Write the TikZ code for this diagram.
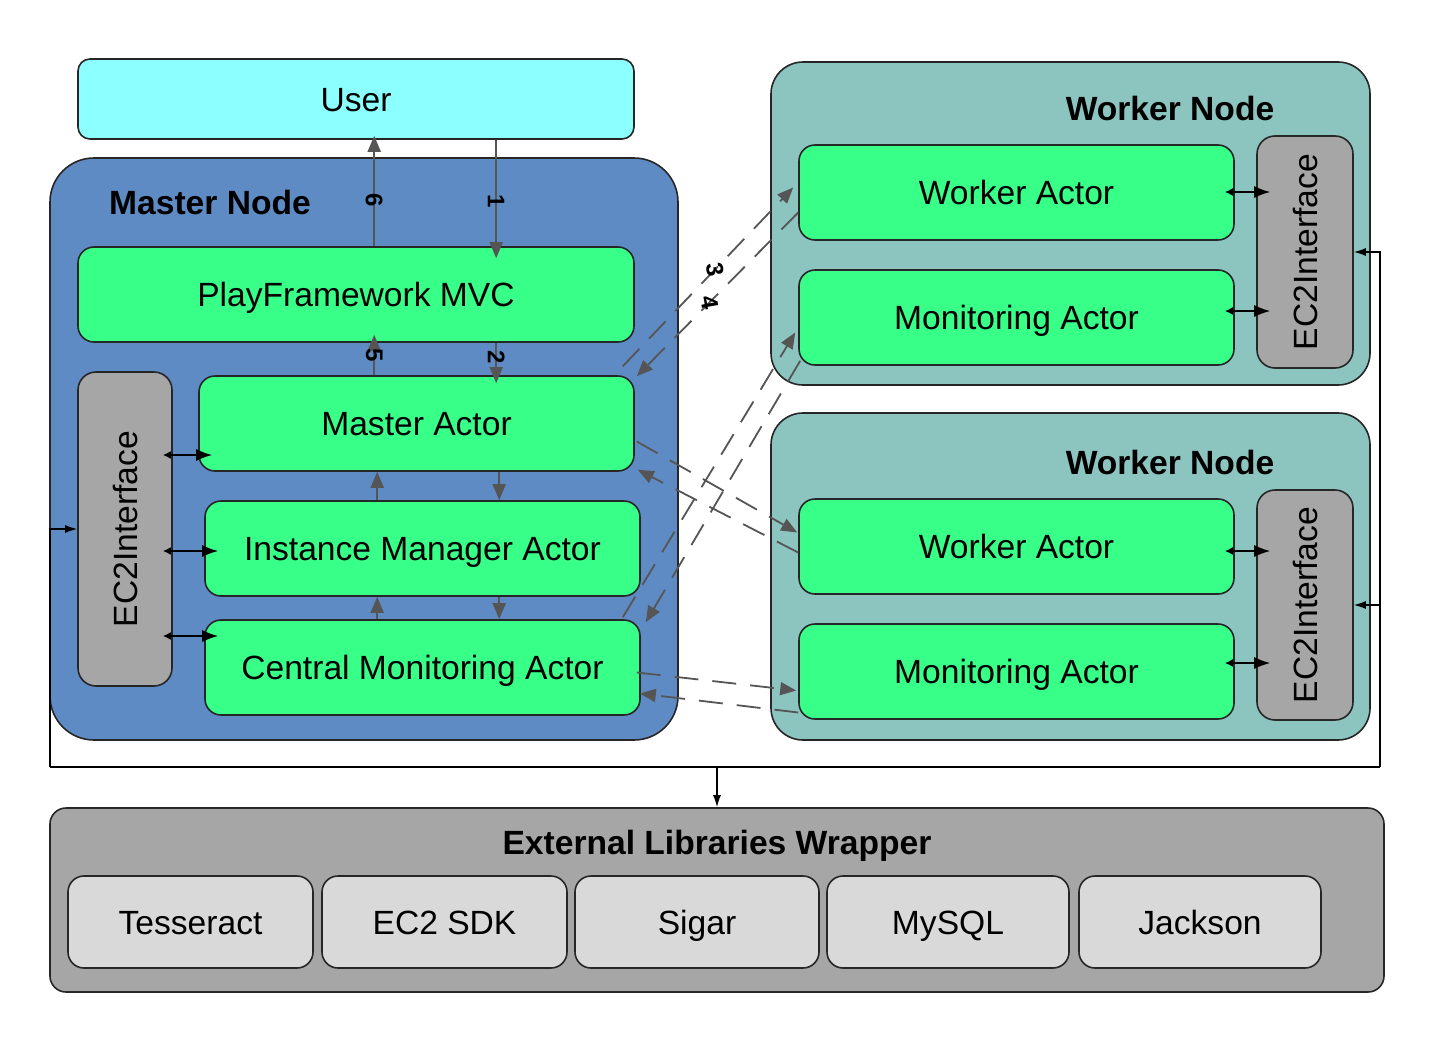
\documentclass[tikz,border=0pt]{standalone}
\usepackage{fontspec}
\setmainfont{Liberation Sans}
\usetikzlibrary{fit,calc,arrows.meta}
\definecolor{usercol}{HTML}{8CFFFF}
\definecolor{mastercol}{HTML}{5F8BC4}
\definecolor{greencol}{HTML}{38FF88}
\definecolor{ec2col}{HTML}{A6A6A6}
\definecolor{workercol}{HTML}{8CC4C0}
\definecolor{libcol}{HTML}{D9D9D9}
\definecolor{arrcol}{HTML}{555555}
\tikzset{
  base/.style={draw=black!85, line width=0.8pt, inner sep=0pt},
  userbox/.style={base, fill=usercol, rounded corners=6pt},
  masterbox/.style={base, fill=mastercol, rounded corners=22pt},
  workerbox/.style={base, fill=workercol, rounded corners=16pt},
  actorbox/.style={base, fill=greencol, rounded corners=8pt},
  ecbox/.style={base, fill=ec2col, rounded corners=9pt},
  wrapbox/.style={base, fill=ec2col, rounded corners=8pt},
  libbox/.style={base, fill=libcol, rounded corners=8pt},
  boxtext/.style={font=\fontsize{16.8}{19}\selectfont, inner sep=0pt, text height=12pt, text depth=0pt},
  title/.style={font=\fontsize{16.8}{19}\selectfont\bfseries, inner sep=0pt, text height=12pt, text depth=0pt},
  rottext/.style={font=\fontsize{16.8}{19}\selectfont, rotate=90, inner sep=0pt, text height=12pt, text depth=0pt},
  garrow/.style={draw=arrcol, line width=0.9pt, -{Triangle[length=8pt,width=6.5pt]}},
  darrow/.style={garrow, dash pattern=on 12pt off 7pt},
  ecarrow/.style={draw=black, line width=0.8pt, {Latex[length=4pt,width=4pt]}-{Latex[length=8pt,width=6pt]}, shorten <=-5pt, shorten >=-7pt},
  busline/.style={draw=black, line width=0.7pt},
  busarrow/.style={busline, -{Latex[length=6pt,width=4pt]}},
  num/.style={font=\fontsize{12}{12}\selectfont\bfseries, rotate=-90, inner sep=0pt},
}
\begin{document}
\begin{tikzpicture}[x=0.5pt, y=-0.5pt]
\useasboundingbox (0,0) rectangle (1451,1044);

% containers
\node[userbox, fit={(78,59) (634,139)}] (user) {};
\node[boxtext] (usert) at (user.center) {User};
\node[masterbox, fit={(50,158) (678,740)}] (master) {};
\node[title] (mastertitle) at (210,202) {Master Node};
\node[workerbox, fit={(771,62) (1370,385)}] (worker1) {};
\node[title] (w1title) at (1170,108) {Worker Node};
\node[workerbox, fit={(771,413) (1370,740)}] (worker2) {};
\node[title] (w2title) at (1170,462) {Worker Node};

% master internals
\node[actorbox, fit={(78,247) (634,342)}] (pf) {};
\node[boxtext] (pft) at (pf.center) {PlayFramework MVC};
\node[ecbox, fit={(78,372) (172,686)}] (mec2) {};
\node[rottext] (mec2t) at (mec2.center) {EC2Interface};
\node[actorbox, fit={(199,376) (634,471)}] (ma) {};
\node[boxtext] (mat) at (ma.center) {Master Actor};
\node[actorbox, fit={(205,501) (640,596)}] (ima) {};
\node[boxtext] (imat) at (ima.center) {Instance Manager Actor};
\node[actorbox, fit={(205,620) (640,715)}] (cma) {};
\node[boxtext] (cmat) at (cma.center) {Central Monitoring Actor};

% worker 1 internals
\node[actorbox, fit={(799,145) (1234,240)}] (wa1) {};
\node[boxtext] (wa1t) at (wa1.center) {Worker Actor};
\node[actorbox, fit={(799,270) (1234,365)}] (mon1) {};
\node[boxtext] (mon1t) at (mon1.center) {Monitoring Actor};
\node[ecbox, fit={(1257,136) (1353,368)}] (w1ec2) {};
\node[rottext] (w1ec2t) at (w1ec2.center) {EC2Interface};

% worker 2 internals
\node[actorbox, fit={(799,499) (1234,594)}] (wa2) {};
\node[boxtext] (wa2t) at (wa2.center) {Worker Actor};
\node[actorbox, fit={(799,624) (1234,719)}] (mon2) {};
\node[boxtext] (mon2t) at (mon2.center) {Monitoring Actor};
\node[ecbox, fit={(1257,490) (1353,720)}] (w2ec2) {};
\node[rottext] (w2ec2t) at (w2ec2.center) {EC2Interface};

% external libraries
\node[wrapbox, fit={(50,808) (1384,992)}] (elw) {};
\node[title] (elwtitle) at (717,842) {External Libraries Wrapper};
\node[libbox, fit={(68,876) (313,968)}] (tess) {};
\node[boxtext] (tesst) at (tess.center) {Tesseract};
\node[libbox, fit={(322,876) (567,968)}] (sdk) {};
\node[boxtext] (sdkt) at (sdk.center) {EC2 SDK};
\node[libbox, fit={(575,876) (819,968)}] (sigar) {};
\node[boxtext] (sigart) at (sigar.center) {Sigar};
\node[libbox, fit={(827,876) (1069,968)}] (mysql) {};
\node[boxtext] (mysqlt) at (mysql.center) {MySQL};
\node[libbox, fit={(1079,876) (1321,968)}] (jackson) {};
\node[boxtext] (jacksont) at (jackson.center) {Jackson};

% vertical arrows in master
\draw[garrow, shorten >=-2pt] ($(pf.north west)+(297,0)$) -- node[num, pos=0.43] {6} ($(user.south west)+(297,0)$);
\draw[garrow, shorten >=-6pt] ($(user.south west)+(419,0)$) -- node[num, pos=0.58] {1} ($(pf.north west)+(419,0)$);
\draw[garrow, shorten >=-4pt] ($(ma.north west)+(176,0)$) -- node[num, pos=0.62] {5} ($(pf.south west)+(297,0)$);
\draw[garrow, shorten >=-4pt] ($(pf.south west)+(419,0)$) -- node[num, pos=0.44] {2} ($(ma.north west)+(298,0)$);
\draw[garrow] ($(ima.north west)+(173,0)$) -- ($(ma.south west)+(179,0)$);
\draw[garrow] ($(ma.south west)+(301,0)$) -- ($(ima.north west)+(295,0)$);
\draw[garrow] ($(cma.north west)+(173,0)$) -- ($(ima.south west)+(173,0)$);
\draw[garrow] ($(ima.south west)+(295,0)$) -- ($(cma.north west)+(295,0)$);

% EC2 interface arrows (master)
\draw[ecarrow] (mec2.east |- 0,455) -- (ma.west |- 0,455);
\draw[ecarrow] (mec2.east |- 0,551) -- (ima.west |- 0,551);
\draw[ecarrow] (mec2.east |- 0,636) -- (cma.west |- 0,636);

% EC2 interface arrows (workers)
\draw[ecarrow] (wa1.east |- 0,192) -- (w1ec2.west |- 0,192);
\draw[ecarrow] (mon1.east |- 0,311) -- (w1ec2.west |- 0,311);
\draw[ecarrow] (wa2.east |- 0,551) -- (w2ec2.west |- 0,551);
\draw[ecarrow] (mon2.east |- 0,663) -- (w2ec2.west |- 0,663);

% dashed messages master <-> workers
\draw[darrow] ($(ma.north east)+(-12,-9)$) -- node[num, rotate=10, pos=0.54] {3} ($(wa1.west)+(-5,-5)$);
\draw[darrow] ($(wa1.west)+(0,20)$) -- node[num, rotate=10, pos=0.55] {4} ($(ma.north east)+(2,1)$);
\draw[darrow] ($(ma.east)+(2,18)$) -- ($(wa2.west)+(-1,-14)$);
\draw[darrow] ($(wa2.west)+(0,6)$) -- ($(ma.south east)+(3,-2)$);
\draw[darrow] ($(cma.north east)+(-18,-2)$) -- ($(mon1.west)+(-3,15)$);
\draw[darrow] ($(mon1.south west)+(2,-5)$) -- ($(cma.north east)+(5,3)$);
\draw[darrow] ($(cma.east)+(-4,5)$) -- ($(mon2.west)+(-2,19)$);
\draw[darrow] ($(mon2.west)+(0,41)$) -- ($(cma.east)+(-1,26)$);

% bus to EC2 interfaces and external libraries
\coordinate (busL) at (50,767);
\coordinate (busR) at (1380,767);
\coordinate (busM) at (elw.north |- busL);
\draw[busline] (busL) -- (busR);
\draw[busarrow] (busL) |- (mec2.west);
\draw[busarrow] (busR) |- (w1ec2.east);
\draw[busarrow] (busR) |- (w2ec2.east);
\draw[busarrow] (busM) -- (elw.north);
\end{tikzpicture}
\end{document}
